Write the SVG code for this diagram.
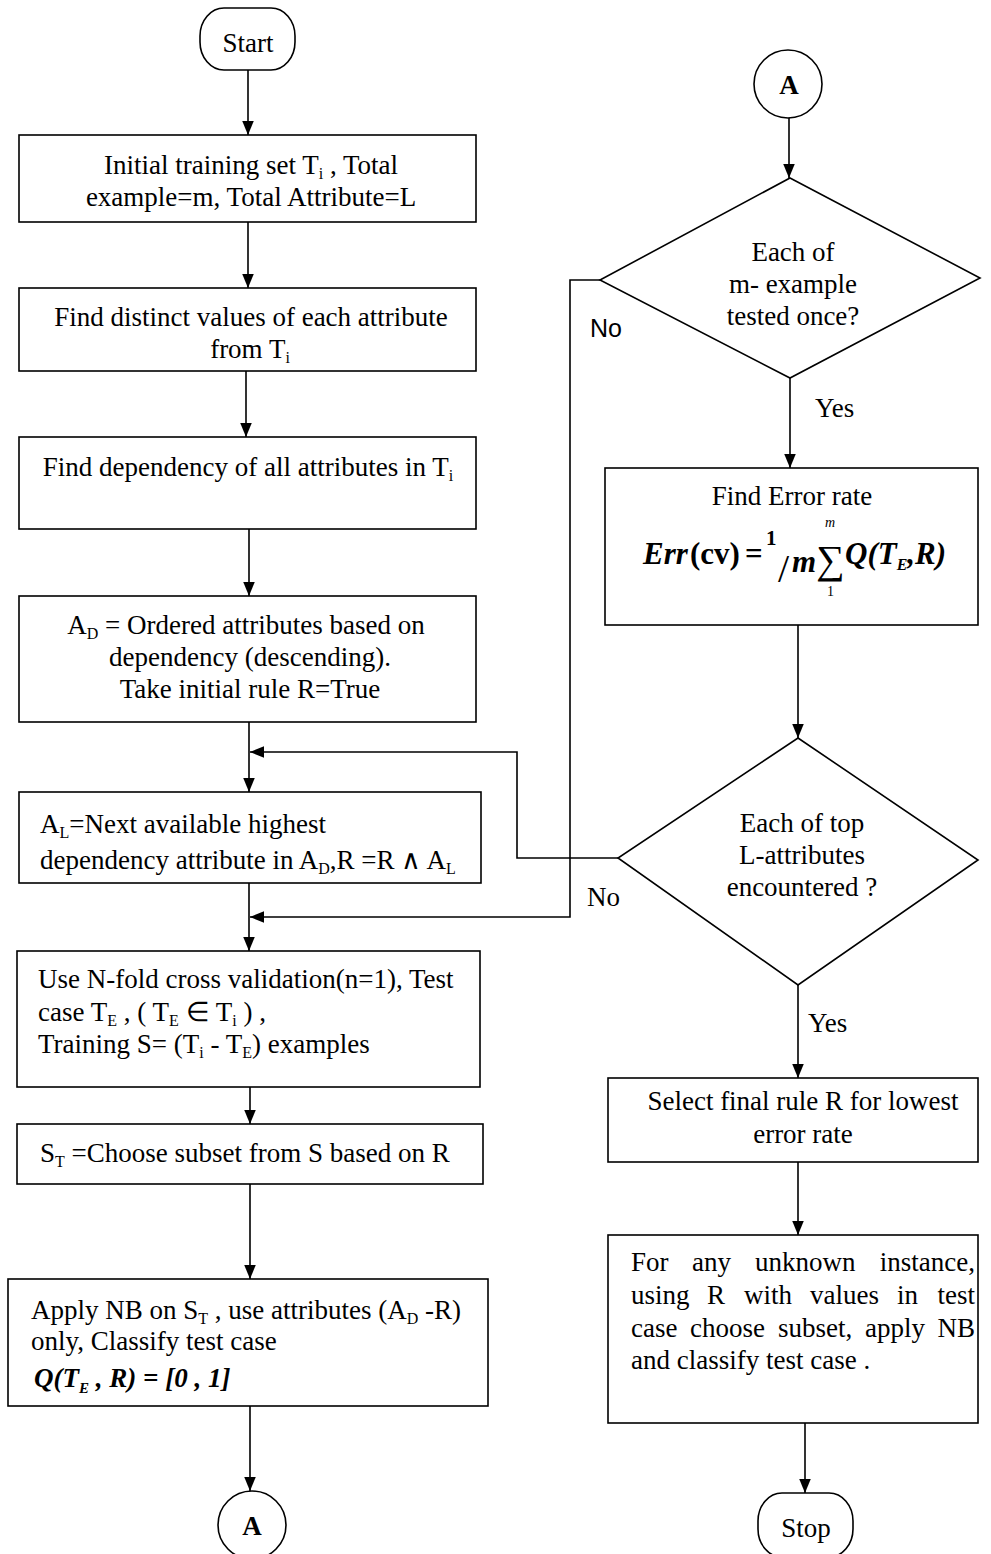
<svg xmlns="http://www.w3.org/2000/svg" width="991" height="1554" viewBox="0 0 991 1554">
<style>
.shape{fill:#fff;stroke:#000;stroke-width:1.6}
.conn{fill:none;stroke:#000;stroke-width:1.6}
text{font-family:"Liberation Serif","Times New Roman",serif;font-size:27px;fill:#000}
.c{text-anchor:middle}
.sans{font-family:"Liberation Sans",Arial,sans-serif;font-size:25px}
.sub{font-size:16px}
.math{font-weight:bold;font-style:italic}
</style>
<defs>
<marker id="ah" markerUnits="userSpaceOnUse" markerWidth="14" markerHeight="18" refX="17" refY="7" viewBox="0 0 17 14" orient="auto">
<path d="M0,0 L17,7 L0,14 Z" fill="#000"/>
</marker>
</defs>
<rect width="991" height="1554" fill="#fff"/>
<g id="connectors">
<path class="conn" d="M248,70 V135" marker-end="url(#ah)"/>
<path class="conn" d="M248,222 V288" marker-end="url(#ah)"/>
<path class="conn" d="M246,371 V437" marker-end="url(#ah)"/>
<path class="conn" d="M249,529 V596" marker-end="url(#ah)"/>
<path class="conn" d="M249,722 V792" marker-end="url(#ah)"/>
<path class="conn" d="M618,858 H517 V752 H250" marker-end="url(#ah)"/>
<path class="conn" d="M249,883 V951" marker-end="url(#ah)"/>
<path class="conn" d="M600,280 H570 V917 H250" marker-end="url(#ah)"/>
<path class="conn" d="M250,1087 V1124" marker-end="url(#ah)"/>
<path class="conn" d="M250,1184 V1279" marker-end="url(#ah)"/>
<path class="conn" d="M250,1406 V1491" marker-end="url(#ah)"/>
<path class="conn" d="M789,118 V178" marker-end="url(#ah)"/>
<path class="conn" d="M790,378 V468" marker-end="url(#ah)"/>
<path class="conn" d="M798,625 V738" marker-end="url(#ah)"/>
<path class="conn" d="M798,985 V1078" marker-end="url(#ah)"/>
<path class="conn" d="M798,1162 V1235" marker-end="url(#ah)"/>
<path class="conn" d="M805,1423 V1493" marker-end="url(#ah)"/>
<text class="sans" x="590" y="337">No</text>
<text x="815" y="417">Yes</text>
<text x="587" y="906">No</text>
<text x="808" y="1032">Yes</text>
</g>
<g id="start">
<rect class="shape" x="200" y="8" width="95" height="62" rx="24" ry="28"/>
<text class="c" x="248" y="52">Start</text>
</g>
<g id="box1">
<rect class="shape" x="19" y="135" width="457" height="87"/>
<text class="c" x="251" y="174">Initial training set  T<tspan class="sub" dy="5">i</tspan><tspan dy="-5"> , Total</tspan></text>
<text class="c" x="251" y="206">example=m, Total Attribute=L</text>
</g>
<g id="box2">
<rect class="shape" x="19" y="288" width="457" height="83"/>
<text class="c" x="251" y="326">Find distinct values of each attribute</text>
<text class="c" x="250" y="358">from T<tspan class="sub" dy="5">i</tspan></text>
</g>
<g id="box3">
<rect class="shape" x="19" y="437" width="457" height="92"/>
<text class="c" x="248" y="476">Find dependency of all attributes in T<tspan class="sub" dy="5">i</tspan></text>
</g>
<g id="box4">
<rect class="shape" x="19" y="596" width="457" height="126"/>
<text class="c" x="246" y="634">A<tspan class="sub" dy="5">D</tspan><tspan dy="-5"> = Ordered attributes based on</tspan></text>
<text class="c" x="250" y="666">dependency (descending).</text>
<text class="c" x="250" y="698">Take initial rule R=True</text>
</g>
<g id="box5">
<rect class="shape" x="19" y="792" width="462" height="91"/>
<text x="40" y="833">A<tspan class="sub" dy="5">L</tspan><tspan dy="-5">=Next available highest</tspan></text>
<text x="40" y="869">dependency attribute in A<tspan class="sub" dy="5">D</tspan><tspan dy="-5">,R =R ∧ A</tspan><tspan class="sub" dy="5">L</tspan></text>
</g>
<g id="box6">
<rect class="shape" x="17" y="951" width="463" height="136"/>
<text x="38" y="988">Use N-fold cross validation(n=1), Test</text>
<text x="38" y="1021">case T<tspan class="sub" dy="5">E</tspan><tspan dy="-5"> , ( T</tspan><tspan class="sub" dy="5">E</tspan><tspan dy="-5"> ∈ T</tspan><tspan class="sub" dy="5">i</tspan><tspan dy="-5"> ) ,</tspan></text>
<text x="38" y="1053">Training S= (T<tspan class="sub" dy="5">i</tspan><tspan dy="-5"> - T</tspan><tspan class="sub" dy="5">E</tspan><tspan dy="-5">) examples</tspan></text>
</g>
<g id="box7">
<rect class="shape" x="17" y="1124" width="466" height="60"/>
<text x="40" y="1162">S<tspan class="sub" dy="5">T</tspan><tspan dy="-5"> =Choose subset from S  based on R</tspan></text>
</g>
<g id="box8">
<rect class="shape" x="8" y="1279" width="480" height="127"/>
<text x="31" y="1319">Apply NB on S<tspan class="sub" dy="5">T</tspan><tspan dy="-5"> , use attributes (A</tspan><tspan class="sub" dy="5">D</tspan><tspan dy="-5"> -R)</tspan></text>
<text x="31" y="1350">only, Classify test case</text>
<text class="math" x="34" y="1387" style="font-size:27px">Q(T<tspan dy="6" style="font-size:15px">E</tspan><tspan dy="-6"> , R) = [0 , 1]</tspan></text>
</g>
<g id="connectorA1">
<circle class="shape" cx="252" cy="1525" r="34"/>
<text class="c" x="252" y="1535" style="font-weight:bold">A</text>
</g>
<g id="connectorA2">
<circle class="shape" cx="788" cy="84" r="34"/>
<text class="c" x="789" y="94" style="font-weight:bold">A</text>
</g>
<g id="decision1">
<polygon class="shape" points="790,178 980,278 790,378 600,280"/>
<text class="c" x="793" y="261">Each of</text>
<text class="c" x="793" y="293">m- example</text>
<text class="c" x="793" y="325">tested once?</text>
</g>
<g id="errorbox">
<rect class="shape" x="605" y="468" width="373" height="157"/>
<text class="c" x="792" y="505">Find Error rate</text>
<text class="math" style="font-size:31px"><tspan x="643" y="564">Err</tspan><tspan x="690" y="564" style="font-style:normal">(cv)</tspan><tspan x="745" y="564" style="font-style:normal">=</tspan><tspan x="766" y="545" style="font-size:21px;font-style:normal">1</tspan><tspan x="778" y="582" style="font-size:40px;font-style:normal;font-weight:normal">/</tspan><tspan x="792" y="572">m</tspan><tspan x="816" y="573" style="font-size:40px;font-style:normal;font-weight:normal">∑</tspan><tspan x="825" y="527" style="font-size:14px;font-weight:normal">m</tspan><tspan x="827" y="596" style="font-size:14px;font-style:normal;font-weight:normal">1</tspan><tspan x="845" y="564">Q(T</tspan><tspan dy="6" style="font-size:16px">E</tspan><tspan dy="-6">,R)</tspan></text>
</g>
<g id="decision2">
<polygon class="shape" points="798,738 978,860 798,985 618,858"/>
<text class="c" x="802" y="832">Each of top</text>
<text class="c" x="802" y="864">L-attributes</text>
<text class="c" x="802" y="896">encountered ?</text>
</g>
<g id="selectbox">
<rect class="shape" x="608" y="1078" width="370" height="84"/>
<text class="c" x="803" y="1110">Select final rule R for lowest</text>
<text class="c" x="803" y="1143">error rate</text>
</g>
<g id="finalbox">
<rect class="shape" x="608" y="1235" width="370" height="188"/>
<text y="1271"><tspan x="631">For</tspan><tspan x="692">any</tspan><tspan x="755">unknown</tspan><tspan x="975" text-anchor="end">instance,</tspan></text>
<text y="1304"><tspan x="631">using</tspan><tspan x="707">R</tspan><tspan x="744">with</tspan><tspan x="810">values</tspan><tspan x="897">in</tspan><tspan x="975" text-anchor="end">test</tspan></text>
<text y="1337"><tspan x="631">case</tspan><tspan x="690">choose</tspan><tspan x="778">subset,</tspan><tspan x="865">apply</tspan><tspan x="975" text-anchor="end">NB</tspan></text>
<text x="631" y="1369">and classify test case .</text>
</g>
<g id="stop">
<rect class="shape" x="758" y="1493" width="95" height="64" rx="24" ry="28"/>
<text class="c" x="806" y="1537">Stop</text>
</g>
</svg>
